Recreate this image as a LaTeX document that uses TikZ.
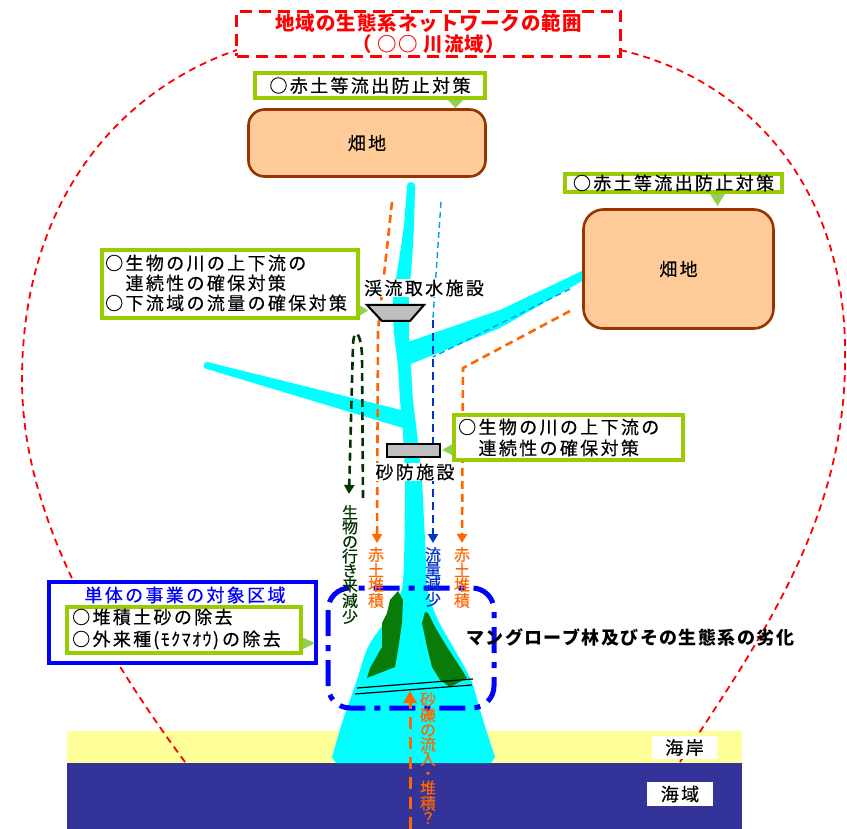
\documentclass[tikz,border=0pt]{standalone}
\usepackage{fontspec}
\usetikzlibrary{arrows.meta}
\newfontfamily\jpw{Noto Sans CJK JP}[LetterSpace=13, FakeBold=0.4]
\newfontfamily\jpt{Noto Sans CJK JP}[LetterSpace=5]
\newfontfamily\jpm{Noto Sans CJK JP}[LetterSpace=8]
\newfontfamily\jph{Noto Sans CJK JP}[LetterSpace=8, FakeBold=0.4]
\newfontfamily\jpn{Noto Sans CJK JP}[FakeBold=0.4]
\definecolor{rvcyan}{HTML}{00FFFF}
\definecolor{fieldfill}{HTML}{FFCC99}
\definecolor{fieldline}{HTML}{993300}
\definecolor{calloutline}{HTML}{99CC00}
\definecolor{pointerfill}{HTML}{92D050}
\definecolor{redsoil}{HTML}{FF6600}
\definecolor{flowblue}{HTML}{0033CC}
\definecolor{thinblue}{HTML}{00A0F0}
\definecolor{biogreen}{HTML}{003300}
\definecolor{mangrove}{HTML}{087B08}
\definecolor{beach}{HTML}{FFFF99}
\definecolor{sea}{HTML}{333399}
\definecolor{areablue}{HTML}{0000FF}
\definecolor{facgray}{HTML}{BFBFBF}
\begin{document}
\begin{tikzpicture}[x=1pt,y=-1pt,
  lbl/.style={font=\jpw\fontsize{18}{20}\selectfont, inner sep=0pt},
  vlbl/.style={font=\jpn\fontsize{16}{14.5}\selectfont, align=center, inner sep=0pt, anchor=north},
  cbox/.style={draw=calloutline, line width=3.5pt, fill=white, inner sep=0pt, font=\jpw\fontsize{18}{20}\selectfont},
  field/.style={draw=fieldline, line width=2.6pt, fill=fieldfill, rounded corners=16pt, inner sep=0pt, font=\jpw\fontsize{18}{20}\selectfont},
  pointer/.style={fill=pointerfill},
  soil/.style={draw=redsoil, line width=2.6pt, dash pattern=on 8pt off 5pt},
  flow/.style={draw=flowblue, line width=2.6pt, dash pattern=on 8pt off 5pt},
  thinflow/.style={draw=thinblue, line width=1.4pt, dash pattern=on 6pt off 4pt},
  bio/.style={draw=biogreen, line width=2.6pt, dash pattern=on 8pt off 5pt},
  arrowhd/.style={-{Triangle[length=9pt,width=10pt]}},
  facility/.style={draw=black, line width=2pt, fill=facgray},
]
% canvas
\fill[white] (0,0) rectangle (847,829);
\useasboundingbox (0,0) rectangle (847,829);

% coast band
\fill[beach] (67,731) rectangle (742,763);

% extent of the ecological network (river basin)
\draw[red, line width=1.8pt, dash pattern=on 7pt off 5pt]
  (185,762) .. controls (65,600) and (22,480) .. (22,380)
  .. controls (22,200) and (120,90) .. (237,50)
  (620,50) .. controls (750,80) and (848,190) .. (845,360)
  .. controls (845,520) and (760,640) .. (680,762);

% sea band
\fill[sea] (67,763) rectangle (742,829);

% title
\node[draw=red, line width=2.8pt, dash pattern=on 12pt off 7pt, fill=white,
      minimum width=384pt, minimum height=45pt, inner sep=0pt, align=center,
      text=red, font=\jpt\bfseries\fontsize{19.5}{21}\selectfont]
  (title) at (428.5,34) {地域の生態系ネットワークの範囲\\（\hspace{6pt}○○\hspace{6pt}川流域）};

% fields
\node[field, minimum width=237pt, minimum height=67pt] (farm1) at (367,143) {畑地};
\node[field, minimum width=190pt, minimum height=119pt, rounded corners=20pt] (farm2) at (678.5,269) {畑地};

% river: tributaries
\fill[rvcyan] (207,362) -- (401,410) -- (403,428) -- (207,369) -- cycle;
\fill[rvcyan] (207,365.5) circle (3.5pt);
\fill[rvcyan] (405,343) -- (500,310) -- (582,271) -- (582,281) -- (500,328) -- (411,364) -- cycle;
% river: main stem and estuary fan
\fill[rvcyan] (411,186) circle (4pt);
\fill[rvcyan]
  plot[smooth] coordinates {(407,186) (404,225) (399,260) (393,300) (394,333) (398,367) (400,400) (403,433) (405,483) (404,560) (401,592) (386,620) (368,647) (357,680) (343,720) (332,757)}
  -- (336,763) -- (491,763) --
  plot[smooth] coordinates {(495,757) (483,720) (471,680) (453,647) (438,620) (428,592) (426,560) (424,520) (422,483) (417,433) (413,400) (411,367) (409,333) (409,300) (412,260) (414,225) (415,186)}
  -- cycle;

% mangrove forest
\fill[mangrove] (398,591) -- (403,600) -- (402,623) -- (398,650) -- (395,667) -- (367,678) -- (370,668) -- (382,647) -- (382,623) -- (387,613) -- (390,600) -- cycle;
\fill[mangrove] (425,612) -- (428,613) -- (435,627) -- (447,647) -- (460,667) -- (467,678) -- (450,687) -- (440,680) -- (432,667) -- (427,647) -- (422,623) -- cycle;
\draw[black, line width=1.2pt] (357,688) -- (473,679);
\draw[black, line width=1.2pt] (355,694) -- (472,685);

% flows
\coordinate (soilA1) at (392,202); \coordinate (soilA2) at (378,330); \coordinate (soilA3) at (377,543);
\coordinate (soilB1) at (570,311); \coordinate (soilB2) at (463,368); \coordinate (soilB3) at (462,543);
\coordinate (wat1) at (441,202); \coordinate (wat2) at (433,318);
\coordinate (wat3) at (570,289); \coordinate (wat4) at (433,357);
\coordinate (flow1) at (433,320); \coordinate (flow2) at (433,543);
\coordinate (bio1) at (363,498); \coordinate (bio2) at (362,355); \coordinate (bio3) at (353,345); \coordinate (bio4) at (349,494);
\draw[thinflow] (wat1) -- (wat2);
\draw[thinflow] (wat3) -- (wat4);
\draw[flow, arrowhd] (flow1) -- (flow2);
\draw[soil, arrowhd] (soilA1) -- (soilA2) -- (soilA3);
\draw[soil, arrowhd] (soilB1) -- (soilB2) -- (soilB3);
\draw[bio, arrowhd] (bio1) -- (bio2) .. controls (361,333) and (354,325) .. (bio3) -- (bio4);

% facilities
\draw[facility] (367,305) -- (424,305) -- (410,321) -- (382,321) -- cycle;
\node[facility, minimum width=53pt, minimum height=13pt, inner sep=0pt] (sabo) at (413,450) {};
\node[lbl, fill=white, inner sep=1pt] (intakeL) at (424,288) {渓流取水施設};
\node[lbl, fill=white, inner sep=1pt] (saboL) at (415,472) {砂防施設};

% target area of the project
\draw[areablue, line width=5pt, dash pattern=on 26pt off 9pt on 6pt off 9pt, rounded corners=22pt] (328,588) rectangle (494,708);

% callouts
\fill[pointer] (447,99) -- (464,99) -- (455.5,108) -- cycle;
\node[cbox, minimum width=230pt, minimum height=25pt] (cb1) at (370,85.5) {○赤土等流出防止対策};
\fill[pointer] (709,192) -- (726,192) -- (717.5,206) -- cycle;
\node[cbox, minimum width=217pt, minimum height=18pt] (cb2) at (673.5,183) {○赤土等流出防止対策};
\fill[pointer] (356,303) -- (368,310.5) -- (356,318) -- cycle;
\node[cbox, minimum width=256pt, minimum height=68pt] (cb3) at (230,284) {};
\node[lbl, anchor=west, align=left] (cb3t) at (105,283) {○生物の川の上下流の\\　連続性の確保対策\\○下流域の流量の確保対策};
\fill[pointer] (456,442) -- (442,450) -- (456,457) -- cycle;
\node[cbox, minimum width=229pt, minimum height=45pt] (cb4) at (568.5,437.5) {};
\node[lbl, anchor=west, align=left, font=\jpw\fontsize{18}{21}\selectfont] (cb4t) at (458,437.5) {○生物の川の上下流の\\　連続性の確保対策};

\node[draw=areablue, line width=4pt, fill=white, minimum width=267pt, minimum height=81pt, inner sep=0pt] (area) at (182.5,622.5) {};
\node[lbl, text=areablue] (areaT) at (185,595) {単体の事業の対象区域};
\fill[pointer] (299,636) -- (315,643) -- (299,651) -- cycle;
\node[cbox, minimum width=234pt, minimum height=46pt] (cb5) at (184,630) {};
\node[lbl, anchor=west, align=left, font=\jpw\fontsize{18}{22}\selectfont] (cb5t) at (72,629) {○堆積土砂の除去\\○外来種{\jph\hspace{2pt}(ﾓｸﾏｵｳ)\hspace{3pt}}の除去};

% vertical labels
\node[vlbl, text=biogreen] (bioL) at (350,505) {生\\物\\の\\行\\き\\来\\減\\少};
\node[vlbl, text=redsoil] (soilAL) at (376,547) {赤\\土\\堆\\積};
\node[vlbl, text=flowblue] (flowL) at (433,547) {流\\量\\減\\少};
\node[vlbl, text=redsoil] (soilBL) at (462,547) {赤\\土\\堆\\積};

\node[anchor=west, inner sep=0pt, font=\jpm\bfseries\fontsize{18}{20}\selectfont] (mangL) at (466,637) {マングローブ林及びその生態系の劣化};

% sediment inflow from the sea
\coordinate (sedA) at (410,829); \coordinate (sedB) at (410,691);
\draw[draw=redsoil, line width=3pt, dash pattern=on 12pt off 8pt, -{Triangle[length=12pt,width=13pt]}] (sedA) -- (sedB);
\node[vlbl, text=redsoil] (sedL) at (428,692) {砂\\礫\\の\\流\\入\\・\\堆\\積\\？};

% zone labels
\node[lbl, fill=white, minimum width=65pt, minimum height=23pt] (beachL) at (684.5,747.5) {海岸};
\node[lbl, fill=white, minimum width=66pt, minimum height=24pt] (seaL) at (680,794) {海域};
\end{tikzpicture}
\end{document}
